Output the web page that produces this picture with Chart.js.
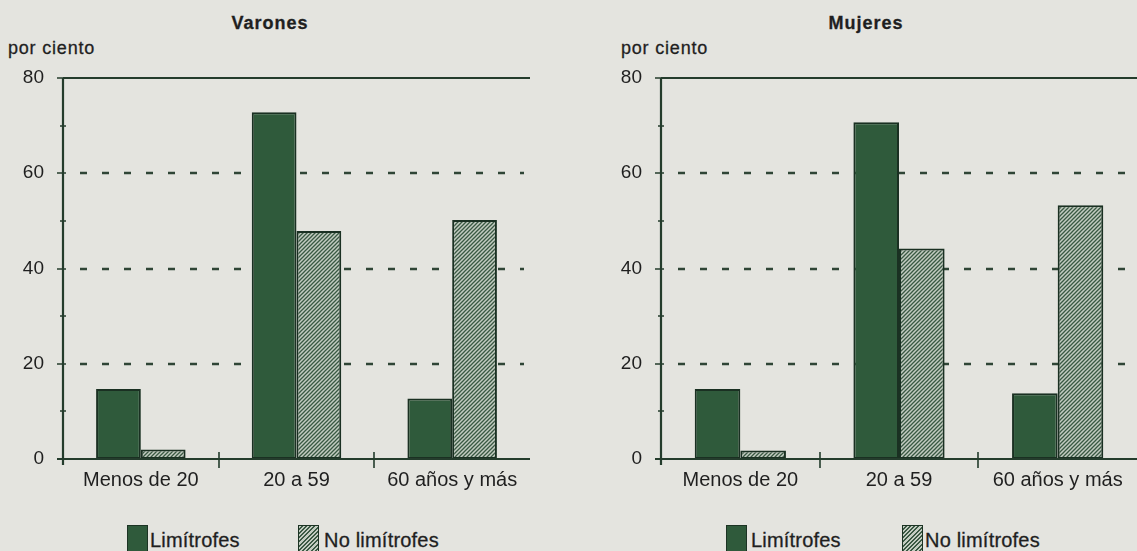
<!DOCTYPE html>
<html>
<head>
<meta charset="utf-8">
<script src="https://cdn.jsdelivr.net/npm/chart.js@4/dist/chart.umd.min.js"></script>
<style>
  body { margin: 0; background: #e4e4df; width: 1137px; height: 551px; overflow: hidden; position: relative; font-family: "Liberation Sans", Arial, sans-serif; color: #1f1f1f; }
  .caja { position: absolute; top: 0; height: 500px; }
  .txt { position: absolute; white-space: nowrap; line-height: 20px; -webkit-text-stroke: 0.3px #1f1f1f; }
  .titulo { font-weight: bold; font-size: 18px; letter-spacing: 1px; transform: translateX(-50%); }
  .unidad { font-size: 18px; letter-spacing: 0.8px; }
  .ley { font-size: 20px; letter-spacing: 0.2px; }
  .sw { position: absolute; width: 21px; height: 27px; box-sizing: border-box; border: 1.5px solid #1c3324; }
  .lim { background: #2f5a3b; }
  .nolim { background: repeating-linear-gradient(135deg, #c3ccc1 0 1.6px, #3a5943 1.6px 3px); }
</style>
</head>
<body>
<div class="txt titulo" style="left:270px; top:13px;">Varones</div>
<div class="txt titulo" style="left:866px; top:13px;">Mujeres</div>
<div class="txt unidad" style="left:8px; top:38px;">por ciento</div>
<div class="txt unidad" style="left:621px; top:38px;">por ciento</div>

<div class="caja" style="left:0; width:568px;"><canvas id="chartVarones"></canvas></div>
<div class="caja" style="left:580px; width:557px;"><canvas id="chartMujeres"></canvas></div>

<div class="sw lim" style="left:127px; top:525px;"></div>
<div class="txt ley" style="left:150px; top:530px;">Limítrofes</div>
<div class="sw nolim" style="left:298px; top:525px;"></div>
<div class="txt ley" style="left:324px; top:530px;">No limítrofes</div>
<div class="sw lim" style="left:726px; top:525px;"></div>
<div class="txt ley" style="left:751px; top:530px;">Limítrofes</div>
<div class="sw nolim" style="left:902px; top:525px;"></div>
<div class="txt ley" style="left:925px; top:530px;">No limítrofes</div>

<script>
const categorias = ['Menos de 20', '20 a 59', '60 años y más'];
const varonesLimitrofes = [14.7, 72.8, 12.7];
const varonesNoLimitrofes = [2.0, 47.9, 50.2];
const mujeresLimitrofes = [14.7, 70.7, 13.8];
const mujeresNoLimitrofes = [1.8, 44.2, 53.3];
const ticksY = [0, 20, 40, 60, 80];
const lineasGuia = [20, 40, 60];

const colorOscuro = '#2f5a3b';
const colorBorde = '#1a3022';
const colorEje = '#243c2c';
const colorTexto = '#1f1f1f';

// trama rayada para "No limítrofes"
function crearTrama() {
    const c = document.createElement('canvas');
    c.width = 4; c.height = 4;
    const g = c.getContext('2d');
    g.fillStyle = '#c3ccc1';
    g.fillRect(0, 0, 4, 4);
    g.strokeStyle = '#3a5943';
    g.lineWidth = 1.3;
    g.beginPath();
    g.moveTo(0, 4); g.lineTo(4, 0);
    g.moveTo(-1, 1); g.lineTo(1, -1);
    g.moveTo(3, 5); g.lineTo(5, 3);
    g.stroke();
    return g.createPattern(c, 'repeat');
}
const trama = crearTrama();

// ejes, marcas y lineas punteadas
const marcoPlugin = {
    id: 'marco',
    beforeDatasetsDraw(chart) {
        const { ctx, chartArea: a, scales: { y } } = chart;
        ctx.save();
        ctx.strokeStyle = '#2f4536';
        ctx.lineWidth = 2.5;
        ctx.setLineDash([7, 15]);
        lineasGuia.forEach(v => {
            const py = Math.round(y.getPixelForValue(v));
            ctx.beginPath();
            ctx.moveTo(a.left + 17, py);
            ctx.lineTo(a.right - 6, py);
            ctx.stroke();
        });
        ctx.restore();
    },
    afterDatasetsDraw(chart) {
        const { ctx, chartArea: a, scales: { x, y } } = chart;
        const arriba = Math.round(y.getPixelForValue(80));
        const cero = Math.round(y.getPixelForValue(0));
        ctx.save();
        ctx.strokeStyle = colorEje;
        ctx.lineWidth = 2.2;
        ctx.beginPath();
        ctx.moveTo(a.left, arriba); ctx.lineTo(a.right, arriba);
        ctx.moveTo(a.left, arriba); ctx.lineTo(a.left, cero + 6);
        ctx.moveTo(a.left - 6, cero); ctx.lineTo(a.right, cero);
        ctx.stroke();
        ctx.lineWidth = 1.6;
        ctx.beginPath();
        for (let v = 0; v <= 80; v += 10) {
            const py = Math.round(y.getPixelForValue(v));
            ctx.moveTo(a.left - (v % 20 === 0 ? 6 : 3), py);
            ctx.lineTo(a.left + 3, py);
        }
        for (let i = 0; i < categorias.length - 1; i++) {
            const px = Math.round((x.getPixelForTick(i) + x.getPixelForTick(i + 1)) / 2);
            ctx.moveTo(px, cero - 7);
            ctx.lineTo(px, cero + 9);
        }
        ctx.stroke();
        ctx.restore();
    }
};

function crearGrafico(id, limitrofes, noLimitrofes, anchoEjeY, margenDer) {
    const ctx = document.getElementById(id).getContext('2d');
    return new Chart(ctx, {
        type: 'bar',
        data: {
            labels: categorias,
            datasets: [{
                label: 'Limítrofes',
                data: limitrofes,
                backgroundColor: colorOscuro,
                borderColor: colorBorde,
                borderWidth: 2,
                borderSkipped: false
            }, {
                label: 'No limítrofes',
                data: noLimitrofes,
                backgroundColor: trama,
                borderColor: colorBorde,
                borderWidth: 2,
                borderSkipped: false
            }]
        },
        options: {
            responsive: true,
            maintainAspectRatio: false,
            animation: false,
            events: [],
            layout: { padding: { top: 78, right: margenDer, bottom: 0, left: 0 } },
            datasets: { bar: { categoryPercentage: 0.575, barPercentage: 1 } },
            plugins: { legend: { display: false }, tooltip: { enabled: false } },
            scales: {
                x: {
                    grid: { display: false, drawTicks: false },
                    border: { display: false },
                    ticks: { color: colorTexto, font: { family: 'Liberation Sans', size: 20 }, padding: 9, maxRotation: 0 },
                    afterFit(s) { s.height = 41; }
                },
                y: {
                    min: 0,
                    max: 80,
                    afterBuildTicks(s) { s.ticks = ticksY.map(v => ({ value: v })); },
                    grid: { display: false, drawTicks: false },
                    border: { display: false },
                    ticks: { color: colorTexto, font: { family: 'Liberation Sans', size: 19 }, padding: 19 },
                    afterFit(s) { s.width = anchoEjeY; }
                }
            }
        },
        plugins: [marcoPlugin]
    });
}

crearGrafico('chartVarones', varonesLimitrofes, varonesNoLimitrofes, 63, 38);
crearGrafico('chartMujeres', mujeresLimitrofes, mujeresNoLimitrofes, 81, 0);
</script>
</body>
</html>
